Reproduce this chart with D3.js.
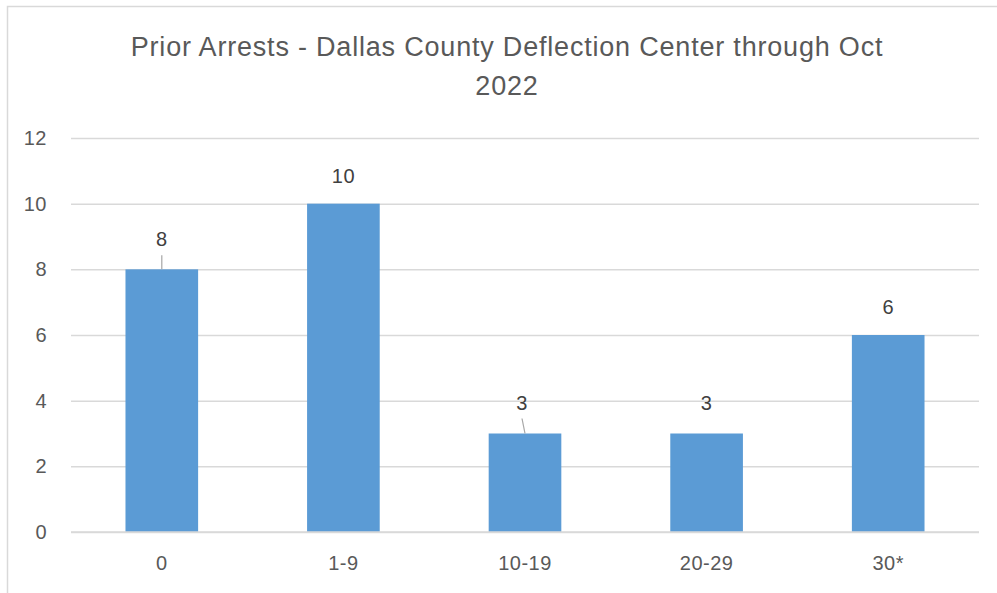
<!DOCTYPE html>
<html>
<head>
<meta charset="utf-8">
<script src="https://cdn.jsdelivr.net/npm/d3@7"></script>
<style>
    html, body { margin: 0; padding: 0; background: #fff; }
    svg { display: block; font-family: "Liberation Sans", Arial, sans-serif; }
</style>
</head>
<body>
<div id="chart"></div>
<script>
(function () {
    'use strict';

    const categories = ['0', '1-9', '10-19', '20-29', '30*'];
    const values = [8, 10, 3, 3, 6];
    const yTicks = [0, 2, 4, 6, 8, 10, 12];
    const titleLines = ['Prior Arrests - Dallas County Deflection Center through Oct', '2022'];

    const W = 997, H = 593;
    const margin = {top: 138, right: 18, bottom: 61, left: 71};
    const cW = W - margin.left - margin.right;
    const cH = H - margin.top - margin.bottom;
    const FONT = '"Liberation Sans", Arial, sans-serif';

    const svg = d3.select('#chart').append('svg').attr('width', W).attr('height', H);

    // chart frame (right + bottom edges fall outside the picture)
    svg.append('rect')
        .attr('x', 7.5).attr('y', 6.5).attr('width', W + 10).attr('height', H + 10)
        .attr('fill', 'none').attr('stroke', '#d9d9d9').attr('stroke-width', 1.5);

    // Title
    svg.append('text')
        .attr('text-anchor', 'middle').attr('fill', '#595959')
        .attr('font-size', '27px').attr('letter-spacing', '0.8px')
        .selectAll('tspan').data(titleLines).join('tspan')
        .attr('x', 507).attr('y', (d, i) => 56 + i * 39)
        .text(d => d);

    const g = svg.append('g').attr('transform', `translate(${margin.left},${margin.top})`);

    const x = d3.scaleBand().domain(categories).range([0, cW]).paddingInner(0.6).paddingOuter(0.3);
    const y = d3.scaleLinear().domain([0, 12]).range([cH, 0]);

    // Horizontal grid lines
    g.append('g')
        .call(d3.axisLeft(y).tickValues(yTicks).tickSize(-cW).tickFormat(''))
        .call(gg => {
            gg.select('.domain').remove();
            gg.selectAll('line').attr('stroke', '#d9d9d9').attr('stroke-width', 1.5);
        });

    // Y axis labels
    g.append('g')
        .call(d3.axisLeft(y).tickValues(yTicks).tickSize(0).tickPadding(24))
        .call(gg => {
            gg.select('.domain').remove();
            gg.selectAll('text').attr('font-size', '20px').attr('fill', '#595959')
                .attr('letter-spacing', '0.5px').attr('font-family', FONT);
        });

    // Bars
    g.selectAll('.bar').data(values).join('rect')
        .attr('class', 'bar')
        .attr('x', (d, i) => x(categories[i]))
        .attr('width', x.bandwidth())
        .attr('y', d => y(d))
        .attr('height', d => cH - y(d))
        .attr('fill', '#5b9bd5');

    // Axis baseline drawn above the bars
    g.append('line')
        .attr('x1', 0).attr('x2', cW).attr('y1', y(0)).attr('y2', y(0))
        .attr('stroke', '#d9d9d9').attr('stroke-width', 1.5);

    // X axis labels
    g.append('g').attr('transform', `translate(0,${cH})`)
        .call(d3.axisBottom(x).tickSize(0).tickPadding(24))
        .call(gg => {
            gg.select('.domain').remove();
            gg.selectAll('text').attr('font-size', '20px').attr('fill', '#595959')
                .attr('letter-spacing', '0.5px').attr('font-family', FONT);
        });

    // Data labels; some were dragged away from the bar and got leader lines
    const labelNudge = {0: {dx: 0, dy: -2, lead: true}, 2: {dx: -3, dy: -3, lead: true}, 3: {dx: 0, dy: -3, lead: false}};
    values.forEach((v, i) => {
        const cx = x(categories[i]) + x.bandwidth() / 2;
        const nd = labelNudge[i] || {dx: 0, dy: 0, lead: false};
        const baseY = y(v) - 21 + nd.dy;
        if (nd.lead) {
            g.append('line')
                .attr('x1', cx + nd.dx).attr('y1', baseY + 9)
                .attr('x2', cx).attr('y2', y(v))
                .attr('stroke', '#a6a6a6').attr('stroke-width', 1.2);
        }
        g.append('text')
            .attr('x', cx + nd.dx).attr('y', baseY)
            .attr('text-anchor', 'middle').attr('font-size', '20px').attr('fill', '#404040')
            .attr('letter-spacing', '0.5px')
            .text(v);
    });
})();
</script>
</body>
</html>
